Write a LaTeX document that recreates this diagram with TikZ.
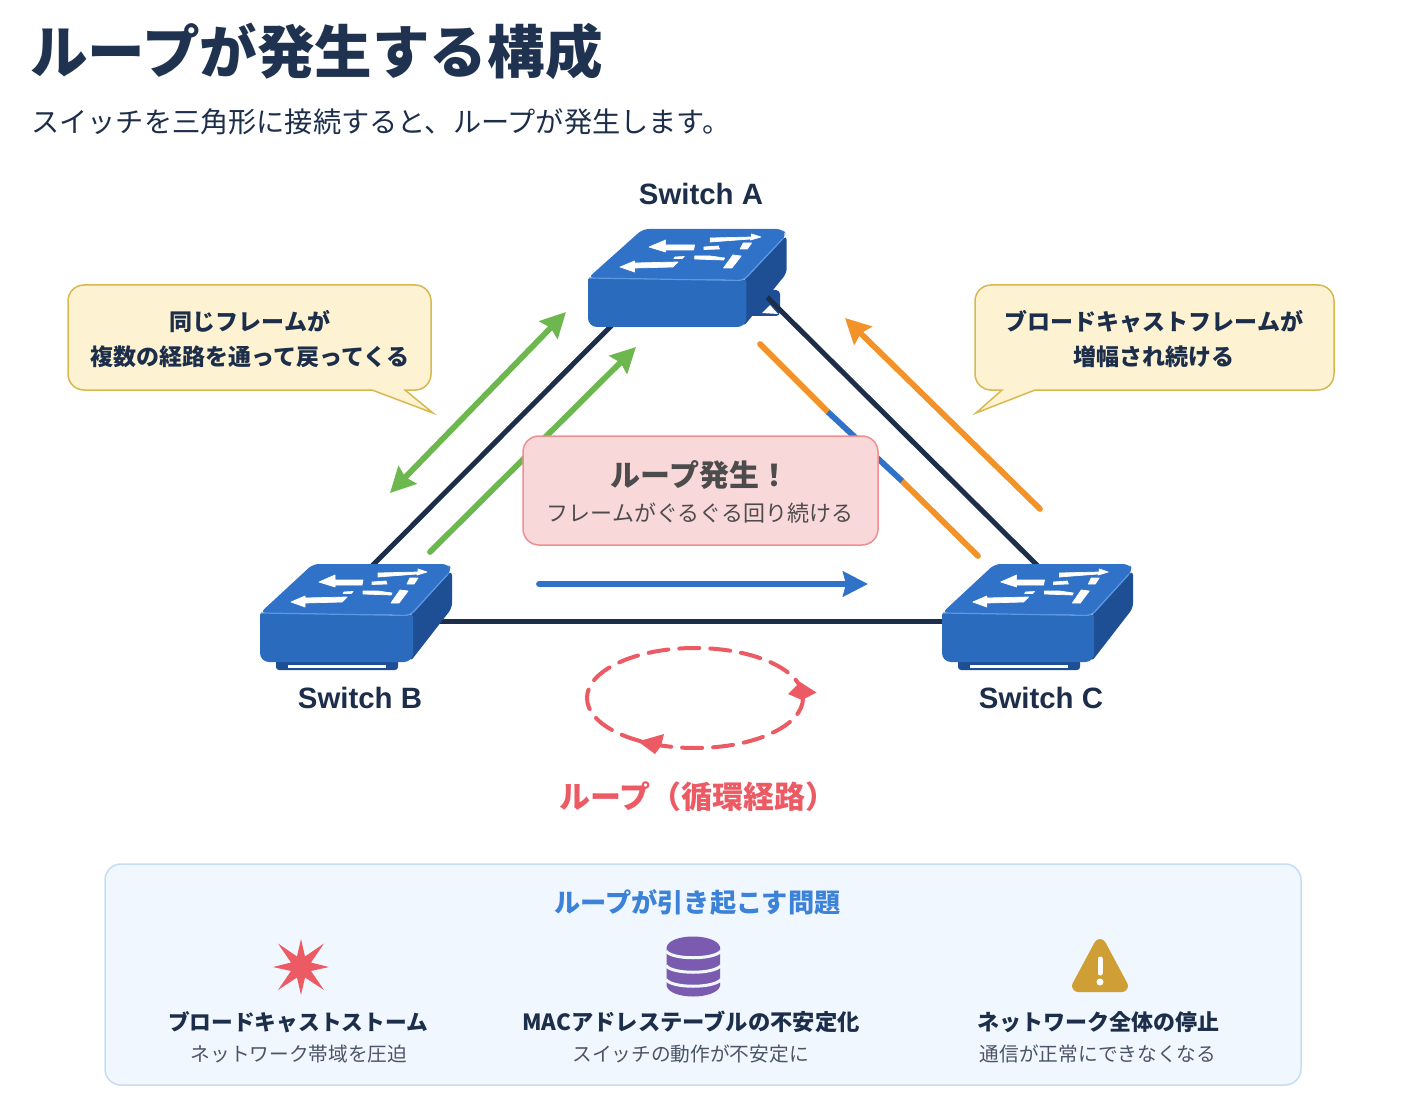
\documentclass[tikz,border=0pt]{standalone}
\usepackage{fontspec}
\setmainfont{Noto Sans CJK JP}
\newfontfamily\latinfont{Liberation Sans}
\usetikzlibrary{arrows.meta}
\definecolor{inkdark}{HTML}{1C2E4A}
\definecolor{titleink}{HTML}{1F3350}
\definecolor{swtop}{HTML}{2F72C8}
\definecolor{swfront}{HTML}{2B6BBE}
\definecolor{swside}{HTML}{1E4F94}
\definecolor{swedge}{HTML}{5C9AE0}
\definecolor{arrgreen}{HTML}{6CB84E}
\definecolor{arrorange}{HTML}{F39229}
\definecolor{arrblue}{HTML}{2F72C8}
\definecolor{paneltext}{HTML}{3B82D8}
\definecolor{loopred}{HTML}{EC5A64}
\definecolor{notefill}{HTML}{FDF3D3}
\definecolor{notedraw}{HTML}{D8B84F}
\definecolor{alertfill}{HTML}{F9D8DA}
\definecolor{alertdraw}{HTML}{EF8F92}
\definecolor{panelfill}{HTML}{F0F7FE}
\definecolor{paneldraw}{HTML}{C5DDF2}
\definecolor{subink}{HTML}{4A5568}
\definecolor{purplebase}{HTML}{7B5BB0}
\definecolor{warnbase}{HTML}{CF9F36}
\tikzset{
  lbl/.style={inner sep=0pt, align=center, text=inkdark},
  swname/.style={lbl, font=\fontsize{29.4}{32}\selectfont\latinfont\bfseries},
  link/.style={line width=5pt, draw=inkdark},
  flow/.style={line width=5.8pt, line cap=round, -{Stealth[length=25pt,width=25pt,inset=3pt]}},
  flowplain/.style={line width=5.8pt, line cap=round},
  note/.style={draw=notedraw, fill=notefill, line width=1.5pt, rounded corners=16pt},
  swmark/.style={fill=white, draw=white, line width=0.7pt, line join=round},
  pics/switchbody/.style={code={
    \fill[swside, rounded corners=5pt] (150,51) -- (192,6) -- (192,44) -- (150,98) -- cycle;
    \fill[swfront, rounded corners=9pt] (0,60) [rounded corners=2pt] -- (0,49) -- (153,51) [rounded corners=9pt] -- (153,98) -- (0,98) -- cycle;
    \fill[swtop, rounded corners=6pt] (0,49) -- (53,0) -- (188,0) -- (192,6) -- (152,51) -- cycle;
    \draw[swedge, line width=1.2pt, rounded corners=5pt] (1,49) -- (150,51.5) -- (188,10);
    \path[swmark] (59,18) -- (75,11) -- (75,16) -- (103,16) -- (102,21) -- (75,21) -- (75,23) -- cycle;
    \path[swmark] (31,38) -- (45,32) -- (45,34) -- (87,33) -- (82,38) -- (45,39) -- (45,43) -- cycle;
    \path[swmark] (167,8) -- (158,5) -- (158,8) -- (118,9) -- (118,13) -- (157,10) -- (157,11) -- cycle;
    \path[swmark] (112,18) -- (126,17) -- (127,20) -- (112,20.5) -- cycle;
    \path[swmark] (150,14) -- (158,14) -- (154,20) -- (147,20) -- cycle;
    \path[swmark] (103,27) -- (118,27) -- (132,29) -- (131,31) -- (103,30) -- cycle;
    \path[swmark] (84,28) -- (93,27.5) -- (91,29.5) -- (83,29.5) -- cycle;
    \path[swmark] (140,26) -- (148,27) -- (139,39) -- (131,39) -- cycle;
  }},
  pics/switchfeet/.style={code={
    \fill[swside, rounded corners=3pt] (16,92) -- (138,92) -- (138,106) -- (16,106) -- cycle;
    \fill[white] (28,101) rectangle (126,104);
  }}
}
\begin{document}
\begin{tikzpicture}[x=1pt, y=-1pt]
  \useasboundingbox (0,0) rectangle (1411,1115);

  % heading
  \node[lbl, anchor=west, text=titleink, font=\fontsize{57.6}{60}\selectfont\bfseries] (head) at (30,51) {ループが発生する構成};
  \node[lbl, anchor=west, text=inkdark, font=\fontsize{28.2}{30}\selectfont] (subhead) at (31,122) {スイッチを三角形に接続すると、ループが発生します。};

  % link ends, hidden under the switches
  \coordinate (portAb) at (630,307);
  \coordinate (portAc) at (765,295);
  \coordinate (portBa) at (350,588);
  \coordinate (portBc) at (430,621);
  \coordinate (portCa) at (1055,583);
  \coordinate (portCb) at (960,621);

  \fill[swside, rounded corners=4pt] (745,290) -- (780,290) -- (780,316) -- (745,316) -- cycle;
  \fill[white] (762,313) -- (770,305) -- (778,314) -- cycle;

  \draw[link] (portAb) -- (portBa);
  \draw[link] (portAc) -- (portCa);
  \draw[link] (portBc) -- (portCb);

  % switches
  \pic[xscale=1.035] at (588,229) {switchbody};
  \pic at (260,564) {switchfeet};
  \pic at (260,564) {switchbody};
  \pic at (942,564) {switchfeet};
  \pic[xscale=0.995] at (942,564) {switchbody};

  \node[swname] (nameA) at (701,194) {Switch A};
  \node[swname] (nameB) at (360,698) {Switch B};
  \node[swname] (nameC) at (1041,698) {Switch C};

  % green frames
  \coordinate (greenAa) at (566,312);
  \coordinate (greenAb) at (390,493);
  \coordinate (greenBa) at (430,552);
  \coordinate (greenBb) at (636,347);
  \draw[flow, arrgreen, {Stealth[length=25pt,width=25pt,inset=3pt]}-{Stealth[length=25pt,width=25pt,inset=3pt]}] (greenAa) -- (greenAb);
  \draw[flow, arrgreen] (greenBa) -- (greenBb);

  % orange frames
  \coordinate (orangeAa) at (760,344);
  \coordinate (orangeAb) at (828,412);
  \coordinate (orangeBa) at (902,481);
  \coordinate (orangeBb) at (978,556);
  \coordinate (orangeCa) at (1040,509);
  \coordinate (orangeCb) at (845,318);
  \draw[flowplain, arrorange] (orangeAa) -- (orangeAb);
  \draw[flowplain, arrorange] (orangeBa) -- (orangeBb);
  \draw[line width=5.8pt, arrblue] (orangeAb) -- (orangeBa);
  \draw[flow, arrorange] (orangeCa) -- (orangeCb);

  % blue frame
  \coordinate (blueA) at (539,584);
  \coordinate (blueB) at (868,584);
  \draw[flow, arrblue] (blueA) -- (blueB);

  % callouts
  \draw[note] (68,338) -- (68,285) -- (431,285) -- (431,390) [sharp corners] -- (405,390) -- (433,413) -- (372,390) [rounded corners=16pt] -- (68,390) -- cycle;
  \node[lbl, font=\fontsize{23}{35}\selectfont\bfseries] (noteL) at (250,339) {同じフレームが\\複数の経路を通って戻ってくる};
  \draw[note] (975,338) -- (975,285) -- (1334,285) -- (1334,390) [sharp corners] -- (1035,390) -- (976,413) -- (1002,390) [rounded corners=16pt] -- (975,390) -- cycle;
  \node[lbl, font=\fontsize{23}{35}\selectfont\bfseries] (noteR) at (1154,339) {ブロードキャストフレームが\\増幅され続ける};

  % centre box
  \draw[draw=alertdraw, fill=alertfill, line width=1.5pt, rounded corners=16pt] (523,436) rectangle (878,545);
  \node[lbl, text=black!70, font=\fontsize{30}{32}\selectfont\bfseries] (alertT) at (700,475) {ループ発生！};
  \node[lbl, text=black!70, font=\fontsize{22}{24}\selectfont] (alertS) at (700,513) {フレームがぐるぐる回り続ける};

  % loop
  \coordinate (loopc) at (695,698);
  \draw[loopred, line width=4pt, dash pattern=on 20pt off 11pt, line cap=round] (loopc) ellipse [x radius=108pt, y radius=50pt];
  \fill[loopred] (816.5,692.5) -- (800,682) -- (788,694) -- (802,700) -- cycle;
  \fill[loopred] (638,741.5) -- (664,734) -- (661,746) -- (655,754) -- cycle;
  \node[lbl, text=loopred, font=\fontsize{31}{33}\selectfont\bfseries] (loopname) at (698,797) {ループ（循環経路）};

  % problem panel
  \draw[draw=paneldraw, fill=panelfill, line width=1.5pt, rounded corners=16pt] (105,864) rectangle (1301,1085);
  \node[lbl, text=paneltext, font=\fontsize{26.2}{28}\selectfont\bfseries] (paneltitle) at (697.5,902) {ループが引き起こす問題};

  % burst icon
  \fill[loopred] (301,939) -- (305,956.5) -- (324,943.5) -- (311,962.5) -- (329,967) -- (311,971) -- (324,990) -- (305,977.5) -- (301,995) -- (297,977.5) -- (278,990) -- (291,971) -- (273,967) -- (291,962.5) -- (278,943.5) -- (297,956.5) -- cycle;

  % database icon
  \fill[purplebase] (666.7,947) -- (666.7,986) .. controls (670,1000) and (716,1000) .. (720,986) -- (720,947) .. controls (716,933) and (670,933) .. cycle;
  \foreach \yy in {951,965.5,979.5}
    \draw[panelfill, line width=3pt] (666,\yy) .. controls (672,\yy+9) and (714,\yy+9) .. (721,\yy);

  % warning icon
  \fill[warnbase, draw=warnbase, line width=12pt, line join=round] (1100,945) -- (1078,986) -- (1122,986) -- cycle;
  \draw[white, line width=5pt, line cap=round] (1100,959) -- (1100,973);
  \fill[white] (1100,982) circle (3.5pt);

  % problem texts
  \node[lbl, font=\fontsize{21.7}{24}\selectfont\bfseries] (probA) at (298,1022) {ブロードキャストストーム};
  \node[lbl, text=subink, font=\fontsize{19.7}{22}\selectfont] (probAs) at (299,1054) {ネットワーク帯域を圧迫};
  \node[lbl, font=\fontsize{22.3}{24}\selectfont\bfseries] (probB) at (691,1022) {MACアドレステーブルの不安定化};
  \node[lbl, text=subink, font=\fontsize{19.7}{22}\selectfont] (probBs) at (690.5,1054) {スイッチの動作が不安定に};
  \node[lbl, font=\fontsize{22}{24}\selectfont\bfseries] (probC) at (1098,1022) {ネットワーク全体の停止};
  \node[lbl, text=subink, font=\fontsize{19.7}{22}\selectfont] (probCs) at (1098,1054) {通信が正常にできなくなる};
\end{tikzpicture}
\end{document}
